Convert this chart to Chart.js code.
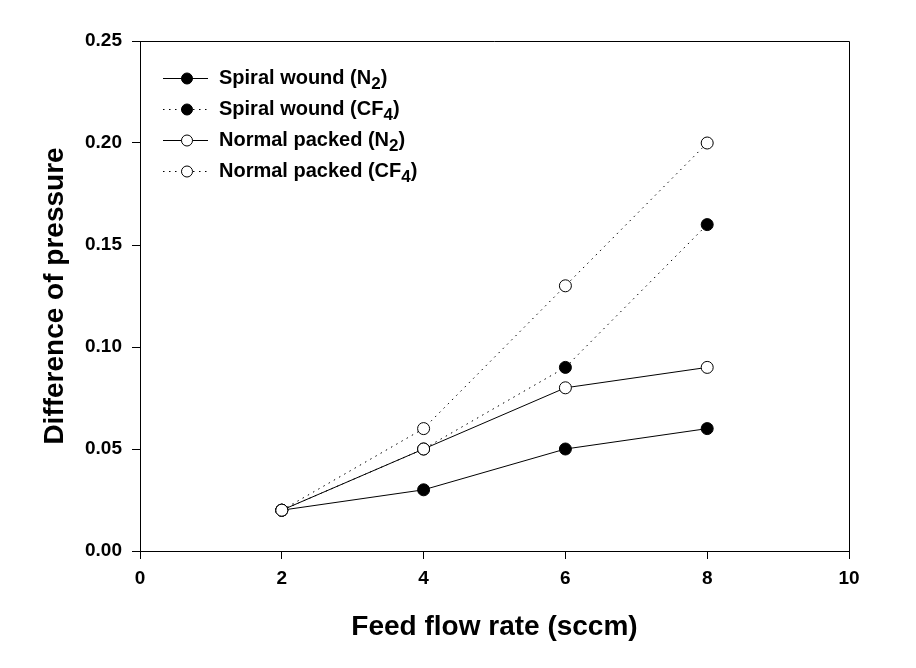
<!DOCTYPE html>
<html>
<head>
<meta charset="utf-8">
<script src="https://cdn.jsdelivr.net/npm/chart.js@4"></script>
<style>
  html, body { margin: 0; padding: 0; background: #fff; }
  #wrap { width: 916px; height: 668px; }
</style>
</head>
<body>
<div id="wrap"><canvas id="pressureChart" width="916" height="668"></canvas></div>
<script>
// feed flow rate (sccm)
const flowRates = [2, 4, 6, 8];

// difference of pressure
const spiralN2 = [0.02, 0.03, 0.05, 0.06];
const spiralCF4 = [0.02, 0.05, 0.09, 0.16];
const normalN2 = [0.02, 0.05, 0.08, 0.09];
const normalCF4 = [0.02, 0.06, 0.13, 0.20];

const xTicks = [0, 2, 4, 6, 8, 10];
const yTicks = [0, 0.05, 0.10, 0.15, 0.20, 0.25];

// legend labels: main text + subscript part
const legendItems = [
  { main: 'Spiral wound (N', sub: '2', tail: ')', filled: true, dotted: false },
  { main: 'Spiral wound (CF', sub: '4', tail: ')', filled: true, dotted: true },
  { main: 'Normal packed (N', sub: '2', tail: ')', filled: false, dotted: false },
  { main: 'Normal packed (CF', sub: '4', tail: ')', filled: false, dotted: true }
];

const toPoints = (vals) => vals.map((v, i) => ({ x: flowRates[i], y: v }));

const FONT = 'Arial, "Liberation Sans", sans-serif';
const DOTS = [1.5, 4.5];

const makeSet = (label, vals, filled, dotted, order) => ({
  label: label,
  data: toPoints(vals),
  borderColor: '#000',
  borderWidth: 1,
  borderDash: dotted ? DOTS : [],
  pointRadius: 6,
  pointHoverRadius: 6,
  pointBorderWidth: 1,
  pointBorderColor: '#000',
  pointBackgroundColor: filled ? '#000' : '#fff',
  fill: false,
  tension: 0,
  order: order
});

// box around the plot + custom legend with subscripts
const boxAndLegend = {
  id: 'boxAndLegend',
  afterDraw(chart) {
    const { ctx, chartArea } = chart;
    ctx.save();
    ctx.strokeStyle = '#000';
    ctx.lineWidth = 1;
    ctx.setLineDash([]);
    ctx.beginPath();
    ctx.moveTo(chartArea.left, chartArea.top + 0.5);
    ctx.lineTo(chartArea.right + 0.5, chartArea.top + 0.5);
    ctx.lineTo(chartArea.right + 0.5, chartArea.bottom);
    ctx.stroke();

    const x0 = 163, x1 = 208, mx = 187, tx = 219;
    const rows = [78, 109, 140, 171];
    legendItems.forEach((it, i) => {
      const y = rows[i];
      ctx.setLineDash(it.dotted ? DOTS : []);
      ctx.beginPath();
      ctx.moveTo(x0, y + 0.5);
      ctx.lineTo(x1, y + 0.5);
      ctx.stroke();
      ctx.setLineDash([]);
      ctx.beginPath();
      ctx.arc(mx, y + 0.5, 5.5, 0, Math.PI * 2);
      ctx.fillStyle = it.filled ? '#000' : '#fff';
      ctx.fill();
      ctx.stroke();

      ctx.fillStyle = '#000';
      ctx.textBaseline = 'middle';
      ctx.textAlign = 'left';
      ctx.font = 'bold 20px ' + FONT;
      ctx.fillText(it.main, tx, y);
      let w = ctx.measureText(it.main).width;
      ctx.font = 'bold 17px ' + FONT;
      ctx.fillText(it.sub, tx + w, y + 6);
      w += ctx.measureText(it.sub).width;
      ctx.font = 'bold 20px ' + FONT;
      ctx.fillText(it.tail, tx + w, y);
    });
    ctx.restore();
  }
};

new Chart(document.getElementById('pressureChart'), {
  type: 'line',
  data: {
    datasets: [
      makeSet('Spiral wound (N2)', spiralN2, true, false, 3),
      makeSet('Spiral wound (CF4)', spiralCF4, true, true, 4),
      makeSet('Normal packed (N2)', normalN2, false, false, 1),
      makeSet('Normal packed (CF4)', normalCF4, false, true, 2)
    ]
  },
  options: {
    responsive: false,
    animation: false,
    events: [],
    layout: { padding: { top: 41, right: 67, left: 0, bottom: 0 } },
    plugins: {
      legend: { display: false },
      tooltip: { enabled: false }
    },
    scales: {
      x: {
        type: 'linear',
        min: 0,
        max: 10,
        afterBuildTicks: (axis) => { axis.ticks = xTicks.map(v => ({ value: v })); },
        afterFit: (axis) => { axis.height = 117; },
        grid: { drawOnChartArea: false, drawTicks: true, tickLength: 8, color: '#000', tickWidth: 1 },
        border: { display: true, color: '#000', width: 1 },
        ticks: {
          color: '#000',
          padding: 8,
          font: { family: FONT, size: 19, weight: 'bold' },
          callback: (v) => String(v)
        },
        title: {
          display: true,
          text: 'Feed flow rate (sccm)',
          color: '#000',
          font: { family: FONT, size: 28, weight: 'bold' },
          padding: { top: 0, bottom: 24 }
        }
      },
      y: {
        type: 'linear',
        min: 0,
        max: 0.25,
        afterBuildTicks: (axis) => { axis.ticks = yTicks.map(v => ({ value: v })); },
        afterFit: (axis) => { axis.width = 140; },
        grid: { drawOnChartArea: false, drawTicks: true, tickLength: 8, color: '#000', tickWidth: 1 },
        border: { display: true, color: '#000', width: 1 },
        ticks: {
          color: '#000',
          padding: 10,
          font: { family: FONT, size: 19, weight: 'bold' },
          callback: (v) => v.toFixed(2)
        },
        title: {
          display: true,
          text: 'Difference of pressure',
          color: '#000',
          font: { family: FONT, size: 28, weight: 'bold' },
          padding: { top: 38, bottom: 0 }
        }
      }
    }
  },
  plugins: [boxAndLegend]
});
</script>
</body>
</html>
